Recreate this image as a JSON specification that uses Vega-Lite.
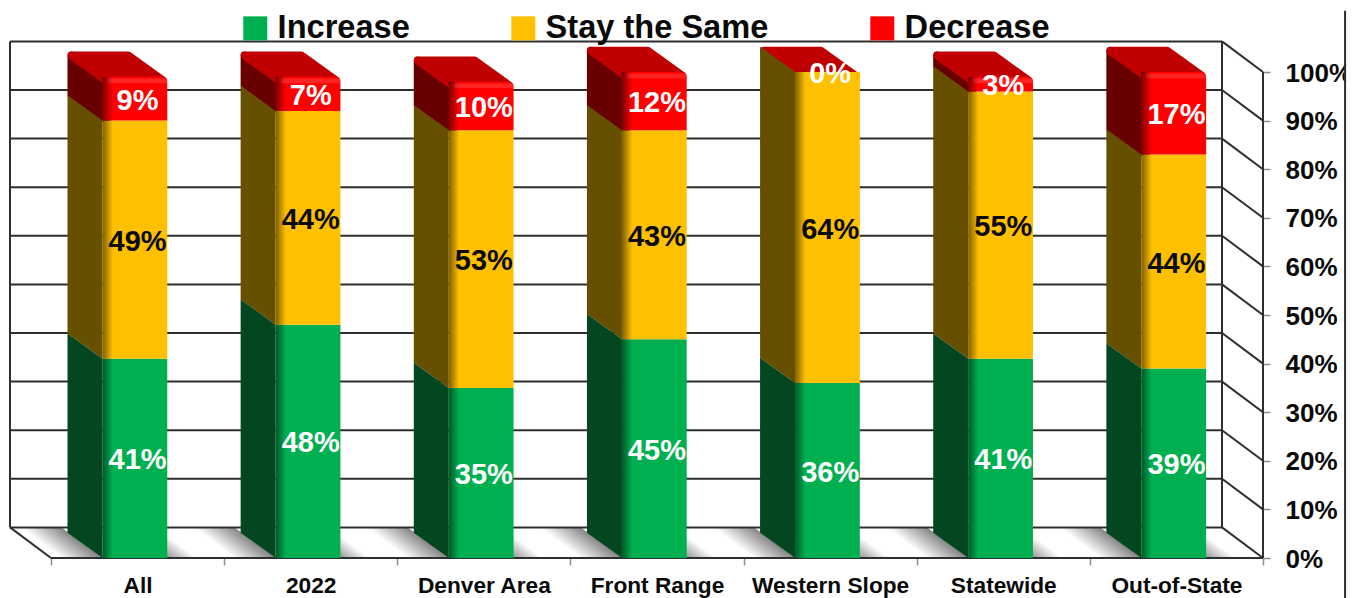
{
  "$schema": "https://vega.github.io/schema/vega-lite/v6.json",
  "description": "Stacked survey shares per group, drawn as oblique 3D columns on a shaded floor with a back wall.",
  "width": 1253,
  "height": 558,
  "padding": {"left": 10, "top": 0, "right": 92, "bottom": 40},
  "autosize": {"type": "none"},
  "background": "white",
  "view": {"stroke": null},
  "config": {"font": "Liberation Sans"},
  "datasets": {
    "levels": [
      {"level": 0}, {"level": 10}, {"level": 20}, {"level": 30}, {"level": 40}, {"level": 50},
      {"level": 60}, {"level": 70}, {"level": 80}, {"level": 90}, {"level": 100}
    ],
    "shares": [
      {"group": "All", "series": "Increase", "value": 41},
      {"group": "All", "series": "Stay the Same", "value": 49},
      {"group": "All", "series": "Decrease", "value": 9},
      {"group": "2022", "series": "Increase", "value": 48},
      {"group": "2022", "series": "Stay the Same", "value": 44},
      {"group": "2022", "series": "Decrease", "value": 7},
      {"group": "Denver Area", "series": "Increase", "value": 35},
      {"group": "Denver Area", "series": "Stay the Same", "value": 53},
      {"group": "Denver Area", "series": "Decrease", "value": 10},
      {"group": "Front Range", "series": "Increase", "value": 45},
      {"group": "Front Range", "series": "Stay the Same", "value": 43},
      {"group": "Front Range", "series": "Decrease", "value": 12},
      {"group": "Western Slope", "series": "Increase", "value": 36},
      {"group": "Western Slope", "series": "Stay the Same", "value": 64},
      {"group": "Western Slope", "series": "Decrease", "value": 0},
      {"group": "Statewide", "series": "Increase", "value": 41},
      {"group": "Statewide", "series": "Stay the Same", "value": 55},
      {"group": "Statewide", "series": "Decrease", "value": 3},
      {"group": "Out-of-State", "series": "Increase", "value": 39},
      {"group": "Out-of-State", "series": "Stay the Same", "value": 44},
      {"group": "Out-of-State", "series": "Decrease", "value": 17}
    ]
  },
  "data": {"name": "shares"},
  "transform": [
    {"calculate": "indexof(['Increase','Stay the Same','Decrease'], datum.series)", "as": "rank"},
    {"calculate": "indexof(['All','2022','Denver Area','Front Range','Western Slope','Statewide','Out-of-State'], datum.group)", "as": "idx"},
    {"stack": "value", "groupby": ["group"], "sort": [{"field": "rank", "order": "ascending"}], "as": ["low", "high"]},
    {"calculate": "datum.idx + 0.2975", "as": "frontLeft"},
    {"calculate": "datum.idx + 0.6715", "as": "frontRight"},
    {"calculate": "datum.idx + 0.5", "as": "center"},
    {"calculate": "(datum.low + datum.high) / 2", "as": "mid"},
    {"calculate": "datum.value + '%'", "as": "label"},
    {"calculate": "[0, 1]", "as": "depth"},
    {"flatten": ["depth"]},
    {"calculate": "datum.frontLeft - datum.depth * 0.2022", "as": "skewLeft"},
    {"calculate": "datum.frontRight - datum.depth * 0.2022", "as": "skewRight"},
    {"calculate": "datum.low + datum.depth * 5.2", "as": "skewLow"},
    {"calculate": "datum.high + datum.depth * 5.2", "as": "skewHigh"},
    {"calculate": "datum.skewLeft + 0.023", "as": "capLeft"},
    {"calculate": "datum.skewRight - 0.023", "as": "capRight"},
    {"calculate": "datum.skewHigh - 0.82", "as": "capHigh"},
    {"calculate": "datum.depth * 6.3", "as": "floorY"},
    {"calculate": "datum.frontLeft - datum.depth * 0.2368", "as": "floorLeft"},
    {"calculate": "datum.floorLeft - 0.24", "as": "floorLeftOuter"},
    {"calculate": "datum.frontRight - datum.depth * 0.2368", "as": "floorRight"},
    {"calculate": "datum.floorRight + 0.173", "as": "floorRightOuter"}
  ],
  "layer": [
    {
      "transform": [{"filter": "datum.series == 'Increase'"}],
      "mark": {
        "type": "area", "orient": "horizontal",
        "color": {"gradient": "linear", "x1": 0, "y1": 0, "x2": 0.403, "y2": -0.2,
          "stops": [{"offset": 0, "color": "rgba(0,0,0,0)"}, {"offset": 1, "color": "rgba(0,0,0,0.48)"}]}
      },
      "encoding": {
        "x": {"field": "floorLeftOuter", "type": "quantitative", "title": null,
          "scale": {"domain": [-0.2368, 7], "nice": false, "zero": false},
          "axis": {
            "values": [0, 0.5, 1, 1.5, 2, 2.5, 3, 3.5, 4, 4.5, 5, 5.5, 6, 6.5, 7],
            "labelExpr": "datum.value % 1 == 0 ? '' : ['All','2022','Denver Area','Front Range','Western Slope','Statewide','Out-of-State'][floor(datum.value)]",
            "domain": false, "grid": false, "labelOverlap": false, "labelBound": false, "labelFlush": false,
            "tickSize": 7, "tickWidth": 1.5, "tickColor": "#8c8c8c",
            "tickOpacity": {"condition": {"test": "datum.value % 1 == 0", "value": 1}, "value": 0},
            "labelFont": "Liberation Sans", "labelFontSize": 22.7, "labelFontWeight": "bold", "labelColor": "#0a0a0a",
            "labelPadding": 9, "labelAngle": 0
          }},
        "x2": {"field": "floorLeft"},
        "y": {"field": "floorY", "type": "quantitative", "title": null,
          "scale": {"domain": [0, 114.815], "nice": false, "zero": false},
          "axis": {
            "orient": "right", "values": [0, 10, 20, 30, 40, 50, 60, 70, 80, 90, 100],
            "labelExpr": "datum.value + '%'",
            "domain": false, "grid": false, "labelOverlap": false, "labelBound": false, "labelFlush": false,
            "tickSize": 7, "tickWidth": 1.5, "tickColor": "#8c8c8c",
            "labelFont": "Liberation Sans", "labelFontSize": 26, "labelFontWeight": "bold", "labelColor": "#0a0a0a",
            "labelPadding": 15, "labelOffset": 1
          }},
        "detail": {"field": "group"}
      }
    },
    {
      "transform": [{"filter": "datum.series == 'Increase'"}],
      "mark": {
        "type": "area", "orient": "horizontal",
        "color": {"gradient": "linear", "x1": 0, "y1": 0, "x2": 0.317, "y2": -0.183,
          "stops": [{"offset": 0, "color": "rgba(0,0,0,0.42)"}, {"offset": 1, "color": "rgba(0,0,0,0)"}]}
      },
      "encoding": {
        "x": {"field": "floorRight", "type": "quantitative"},
        "x2": {"field": "floorRightOuter"},
        "y": {"field": "floorY", "type": "quantitative"},
        "detail": {"field": "group"}
      }
    },
    {
      "data": {"name": "levels"},
      "transform": [{"calculate": "datum.level + 6.3", "as": "wall"}],
      "mark": {"type": "rule", "color": "#2e2e2e", "strokeWidth": 2},
      "encoding": {
        "x": {"datum": -0.2368, "type": "quantitative"},
        "x2": {"datum": 6.7632},
        "y": {"field": "wall", "type": "quantitative"}
      }
    },
    {
      "data": {"name": "levels"},
      "transform": [{"calculate": "datum.level + 6.3", "as": "wall"}],
      "mark": {"type": "rule", "color": "#2e2e2e", "strokeWidth": 2},
      "encoding": {
        "x": {"datum": 6.7632, "type": "quantitative"},
        "x2": {"datum": 7},
        "y": {"field": "wall", "type": "quantitative"},
        "y2": {"field": "level"}
      }
    },
    {
      "data": {"name": "levels"},
      "transform": [{"filter": "datum.level == 0"}, {"calculate": "datum.level + 6.3", "as": "wall"}],
      "mark": {"type": "rule", "color": "#2e2e2e", "strokeWidth": 2},
      "encoding": {
        "x": {"datum": -0.2368, "type": "quantitative"},
        "x2": {"datum": 0},
        "y": {"field": "wall", "type": "quantitative"},
        "y2": {"field": "level"}
      }
    },
    {
      "data": {"name": "levels"},
      "transform": [{"filter": "datum.level == 0"}],
      "mark": {"type": "rule", "color": "#2e2e2e", "strokeWidth": 2},
      "encoding": {
        "x": {"datum": 0, "type": "quantitative"},
        "x2": {"datum": 7},
        "y": {"field": "level", "type": "quantitative"}
      }
    },
    {
      "data": {"name": "levels"},
      "transform": [{"filter": "datum.level == 0"}],
      "mark": {"type": "rule", "color": "#2e2e2e", "strokeWidth": 2},
      "encoding": {
        "x": {"datum": -0.2368, "type": "quantitative"},
        "y": {"datum": 6.3, "type": "quantitative"},
        "y2": {"datum": 106.3}
      }
    },
    {
      "data": {"name": "levels"},
      "transform": [{"filter": "datum.level == 0"}],
      "mark": {"type": "rule", "color": "#2e2e2e", "strokeWidth": 2},
      "encoding": {
        "x": {"datum": 6.7632, "type": "quantitative"},
        "y": {"datum": 6.3, "type": "quantitative"},
        "y2": {"datum": 106.3}
      }
    },
    {
      "data": {"name": "levels"},
      "transform": [{"filter": "datum.level == 0"}],
      "mark": {"type": "rule", "color": "#2e2e2e", "strokeWidth": 2},
      "encoding": {
        "x": {"datum": 7, "type": "quantitative"},
        "y": {"datum": 0, "type": "quantitative"},
        "y2": {"datum": 100}
      }
    },
    {
      "transform": [{"filter": "datum.series == 'Decrease' && datum.value > 0"}],
      "mark": {"type": "area", "color": "#680000", "stroke": "#680000", "strokeWidth": 8, "strokeJoin": "round"},
      "encoding": {
        "x": {"field": "capLeft", "type": "quantitative"},
        "y": {"field": "capHigh", "type": "quantitative"},
        "y2": {"field": "skewLow"},
        "detail": {"field": "group"}
      }
    },
    {
      "transform": [{"filter": "datum.series == 'Decrease'"}],
      "mark": {"type": "area", "orient": "horizontal", "color": "#C00000", "stroke": "#C00000", "strokeWidth": 8, "strokeJoin": "round"},
      "encoding": {
        "x": {"field": "capLeft", "type": "quantitative"},
        "x2": {"field": "capRight"},
        "y": {"field": "capHigh", "type": "quantitative"},
        "detail": {"field": "group"}
      }
    },
    {
      "transform": [{"filter": "datum.series == 'Stay the Same'"}],
      "mark": {"type": "area", "color": "#665000"},
      "encoding": {
        "x": {"field": "skewLeft", "type": "quantitative"},
        "y": {"field": "skewHigh", "type": "quantitative"},
        "y2": {"field": "skewLow"},
        "detail": {"field": "group"}
      }
    },
    {
      "transform": [{"filter": "datum.series == 'Increase'"}],
      "mark": {"type": "area", "color": "#03461F"},
      "encoding": {
        "x": {"field": "skewLeft", "type": "quantitative"},
        "y": {"field": "skewHigh", "type": "quantitative"},
        "y2": {"field": "skewLow"},
        "detail": {"field": "group"}
      }
    },
    {
      "transform": [{"filter": "datum.depth == 0 && datum.series != 'Decrease'"}],
      "mark": {"type": "bar"},
      "encoding": {
        "x": {"field": "frontLeft", "type": "quantitative"},
        "x2": {"field": "frontRight"},
        "y": {"field": "high", "type": "quantitative"},
        "y2": {"field": "low"},
        "color": {
          "field": "series", "type": "nominal",
          "scale": {"domain": ["Increase", "Stay the Same", "Decrease"], "range": ["#00B050", "#FFC000", "#FF0000"]},
          "legend": {
            "title": null, "orient": "none", "direction": "horizontal", "columns": 3,
            "legendX": 229, "legendY": 12, "columnPadding": 97, "padding": 0, "gridAlign": "each",
            "symbolType": "square", "symbolSize": 576, "symbolStrokeWidth": 0, "symbolOpacity": 1,
            "labelFont": "Liberation Sans", "labelFontSize": 32.6, "labelFontWeight": "bold", "labelColor": "#0a0a0a",
            "labelOffset": 6, "labelLimit": 400
          }
        }
      }
    },
    {
      "transform": [{"filter": "datum.depth == 0 && datum.series == 'Decrease' && datum.value > 0"}],
      "mark": {"type": "bar", "cornerRadiusTopLeft": 6, "cornerRadiusTopRight": 6},
      "encoding": {
        "x": {"field": "frontLeft", "type": "quantitative"},
        "x2": {"field": "frontRight"},
        "y": {"field": "high", "type": "quantitative"},
        "y2": {"field": "low"},
        "color": {"field": "series", "type": "nominal"}
      }
    },
    {
      "transform": [{"filter": "datum.depth == 0 && datum.series == 'Decrease' && datum.value > 0"}, {"calculate": "datum.high - 0.35", "as": "glowTop"}, {"calculate": "datum.high - 1.3", "as": "glowBottom"}, {"calculate": "datum.frontLeft + 0.03", "as": "glowLeft"}],
      "mark": {"type": "bar", "color": "rgba(255,255,255,0.14)"},
      "encoding": {
        "x": {"field": "glowLeft", "type": "quantitative"},
        "x2": {"field": "frontRight"},
        "y": {"field": "glowTop", "type": "quantitative"},
        "y2": {"field": "glowBottom"}
      }
    },
    {
      "transform": [{"filter": "datum.depth == 0 && datum.value > 0"}, {"calculate": "datum.frontLeft + 0.06", "as": "shadeEnd"}],
      "mark": {
        "type": "bar",
        "color": {"gradient": "linear", "x1": 0, "y1": 0, "x2": 1, "y2": 0,
          "stops": [{"offset": 0, "color": "rgba(0,0,0,0.5)"}, {"offset": 1, "color": "rgba(0,0,0,0)"}]}
      },
      "encoding": {
        "x": {"field": "frontLeft", "type": "quantitative"},
        "x2": {"field": "shadeEnd"},
        "y": {"field": "high", "type": "quantitative"},
        "y2": {"field": "low"}
      }
    },
    {
      "transform": [{"filter": "datum.depth == 0"}],
      "mark": {"type": "text", "font": "Liberation Sans", "fontSize": 29, "fontWeight": "bold", "baseline": "middle", "dy": 2},
      "encoding": {
        "x": {"field": "center", "type": "quantitative"},
        "y": {"field": "mid", "type": "quantitative"},
        "text": {"field": "label"},
        "color": {"condition": {"test": "datum.series == 'Stay the Same'", "value": "#0a0a0a"}, "value": "#ffffff"}
      }
    },
    {
      "data": {"name": "levels"},
      "transform": [{"filter": "datum.level == 0"}],
      "mark": {"type": "rect", "color": "white"},
      "encoding": {
        "x": {"datum": 7.48, "type": "quantitative"},
        "x2": {"datum": 7.6},
        "y": {"datum": -8.3, "type": "quantitative"},
        "y2": {"datum": 112.6}
      }
    },
    {
      "data": {"name": "levels"},
      "transform": [{"filter": "datum.level == 0"}],
      "mark": {"type": "rule", "color": "#2e2e2e", "strokeWidth": 2},
      "encoding": {
        "x": {"datum": 7.474, "type": "quantitative"},
        "y": {"datum": -8.3, "type": "quantitative"},
        "y2": {"datum": 112.6}
      }
    }
  ]
}
